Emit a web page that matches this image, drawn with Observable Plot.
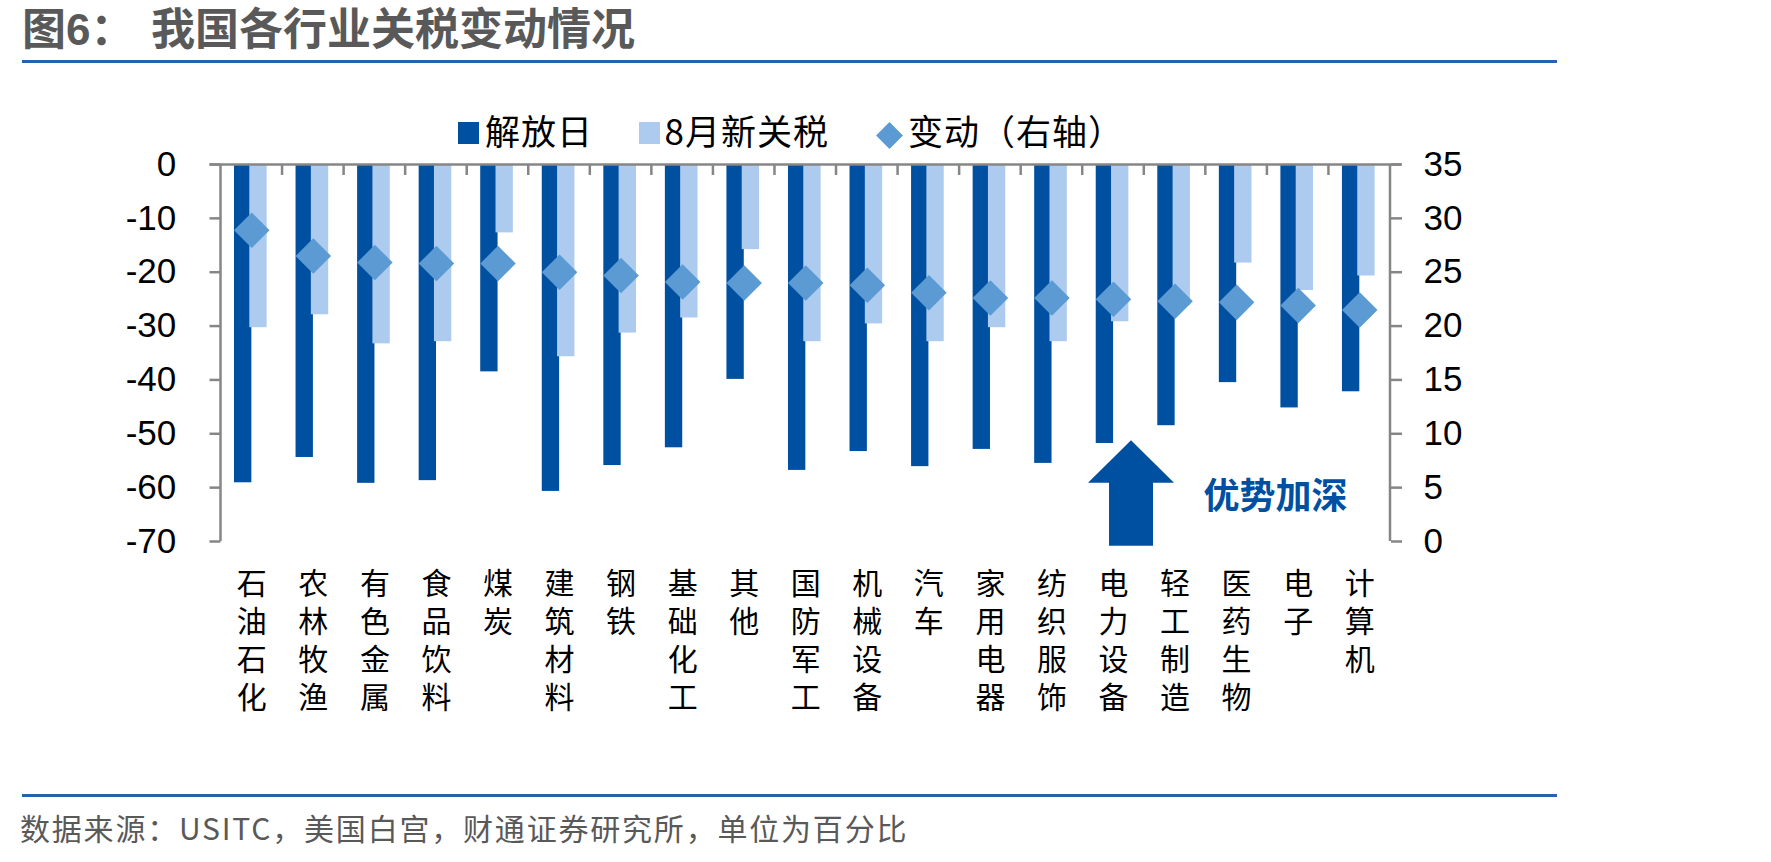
<!DOCTYPE html>
<html>
<head>
<meta charset="utf-8">
<script src="https://cdn.jsdelivr.net/npm/d3@7"></script>
<script src="https://cdn.jsdelivr.net/npm/@observablehq/plot@0.6"></script>
<style>
  body { margin: 0; background: #fff; }
  #wrap { position: relative; width: 1771px; height: 862px; overflow: hidden; background: #fff; }
  #chart { position: absolute; left: 0; top: 0; }
  .abs { position: absolute; white-space: nowrap; line-height: 1; font-family: "Noto Sans CJK SC", sans-serif; }
  .title { font-size: 44px; font-weight: 700; color: #595959; top: 7.5px;
           font-family: "Liberation Sans", "Noto Sans CJK SC", sans-serif; }
  .rule { position: absolute; left: 22px; width: 1535px; height: 3px; background: #2663ae; }
  .legend-text { font-size: 35px; color: #000; top: 111.5px; letter-spacing: 1px; }
  .swatch { position: absolute; top: 122px; width: 21.5px; height: 21.5px; }
  .caption { font-size: 30px; color: #595959; top: 812px; left: 20px; letter-spacing: 1.8px; }
</style>
</head>
<body>
<div id="wrap">
  <div id="chart"></div>
  <div class="abs title" style="left:22px">图6：</div>
  <div class="abs title" style="left:151px">我国各行业关税变动情况</div>
  <div class="rule" style="top:59.5px"></div>

  <div class="swatch" style="left:457.5px;background:#0050a2"></div>
  <div class="abs legend-text" style="left:485px">解放日</div>
  <div class="swatch" style="left:638.5px;background:#adcbef"></div>
  <div class="abs legend-text" style="left:664.5px">8月新关税</div>
  <div class="swatch" style="left:879.5px;top:125.5px;width:19px;height:19px;background:#5b9ad3;transform:rotate(45deg)"></div>
  <div class="abs legend-text" style="left:908px">变动（右轴）</div>

  <div class="rule" style="top:793.5px"></div>
  <div class="abs caption">数据来源：USITC，美国白宫，财通证券研究所，单位为百分比</div>
</div>
<script>
// Industries, in display order
const categories = ["石油石化", "农林牧渔", "有色金属", "食品饮料", "煤炭", "建筑材料", "钢铁", "基础化工", "其他",
  "国防军工", "机械设备", "汽车", "家用电器", "纺织服饰", "电力设备", "轻工制造", "医药生物", "电子", "计算机"];
// Tariff level set on "Liberation Day" (left axis, %)
const liberationDay = [-59.1, -54.4, -59.2, -58.7, -38.5, -60.7, -55.9, -52.6, -39.9,
  -56.8, -53.3, -56.1, -52.9, -55.5, -51.8, -48.5, -40.5, -45.2, -42.2];
// New tariff level from August (left axis, %)
const augustTariff = [-30.3, -27.9, -33.3, -32.9, -12.7, -35.7, -31.3, -28.5, -15.8,
  -32.9, -29.6, -32.9, -30.3, -32.9, -29.2, -26.2, -18.3, -23.4, -20.7];
// Change between the two (right axis, %)
const change = [28.9, 26.5, 25.9, 25.8, 25.8, 25.0, 24.7, 24.1, 24.0,
  24.0, 23.8, 23.1, 22.6, 22.6, 22.5, 22.3, 22.2, 21.9, 21.5];

const leftTicks = [-70, -60, -50, -40, -30, -20, -10, 0];
const rightTicks = [0, 5, 10, 15, 20, 25, 30, 35];

const darkBlue = "#0050a2";
const lightBlue = "#adcbef";
const diamondBlue = "#5b9ad3";
const axisGrey = "#868686";
const cjk = "'Noto Sans CJK SC', sans-serif";

// The right axis (0–35) shares the plot height with the left axis (−70–0)
const rightToLeft = v => v * 2 - 70;
const leftToRight = v => (v + 70) / 2;

const rows = categories.map((c, i) => ({
  category: c, liberation: liberationDay[i], august: augustTariff[i], change: change[i]
}));

// Annotation arrow next to 电力设备
const arrowSpec = {category: "电力设备", offset: 18, tip: -51.3, shoulder: -59.2, base: -70.9, headHalf: 43, shaftHalf: 22};

function bandStep(dims) {
  return (dims.width - dims.marginLeft - dims.marginRight) / categories.length;
}

// Vertical axis lines and the category separators hanging from the zero line
function frameLines(index, scales, values, dims) {
  const y = scales.y;
  const x0 = dims.marginLeft, x1 = dims.width - dims.marginRight;
  const step = bandStep(dims);
  const p = d3.path();
  p.moveTo(x0, y(0)); p.lineTo(x0, y(-70));
  p.moveTo(x1, y(0)); p.lineTo(x1, y(-70));
  for (let k = 1; k < categories.length; k++) {
    p.moveTo(x0 + k * step, y(0));
    p.lineTo(x0 + k * step, y(0) + 11);
  }
  const g = d3.create("svg:g");
  g.append("path").attr("d", p.toString())
    .attr("fill", "none").attr("stroke", axisGrey).attr("stroke-width", 2.5);
  return g.node();
}

function arrowMark(index, scales, values, dims) {
  const y = scales.y;
  const step = bandStep(dims);
  const cx = dims.marginLeft + step * (categories.indexOf(arrowSpec.category) + 0.5) + arrowSpec.offset;
  const {headHalf: h, shaftHalf: s} = arrowSpec;
  const pts = [
    [cx, y(arrowSpec.tip)],
    [cx + h, y(arrowSpec.shoulder)],
    [cx + s, y(arrowSpec.shoulder)],
    [cx + s, y(arrowSpec.base)],
    [cx - s, y(arrowSpec.base)],
    [cx - s, y(arrowSpec.shoulder)],
    [cx - h, y(arrowSpec.shoulder)]
  ];
  const g = d3.create("svg:g");
  g.append("polygon").attr("points", pts.map(d => d.join(",")).join(" ")).attr("fill", darkBlue);
  return g.node();
}

const chart = Plot.plot({
  width: 1771,
  height: 862,
  marginTop: 164,
  marginBottom: 321,
  marginLeft: 220.5,
  marginRight: 381,
  x: {type: "band", domain: categories, padding: 0, round: false, axis: null},
  y: {domain: [-70, 0]},
  style: {
    background: "transparent",
    fontFamily: "'Liberation Sans', Arial, sans-serif",
    fontSize: "35px",
    color: "#000",
    overflow: "visible"
  },
  marks: [
    Plot.barY(rows, {x: "category", y1: () => 0, y2: "liberation", fill: darkBlue, insetLeft: 13.5, insetRight: 30.7}),
    Plot.barY(rows, {x: "category", y1: () => 0, y2: "august", fill: lightBlue, insetLeft: 28.8, insetRight: 15.4}),
    Plot.ruleY([0], {stroke: axisGrey, strokeWidth: 2.5, insetLeft: -11, insetRight: -11}),
    frameLines,
    Plot.axisY(leftTicks, {
      anchor: "left", label: null, tickSize: 11, tickPadding: 33.7,
      stroke: axisGrey, strokeWidth: 2.5, fill: "#000", fontSize: 35,
      tickFormat: d => String(d)
    }),
    Plot.axisY(rightTicks.map(rightToLeft), {
      anchor: "right", label: null, tickSize: 11, tickPadding: 22,
      stroke: axisGrey, strokeWidth: 2.5, fill: "#000", fontSize: 35,
      tickFormat: d => String(leftToRight(d))
    }),
    Plot.dot(rows, {x: "category", y: d => rightToLeft(d.change), symbol: "diamond2", r: 16, fill: diamondBlue, stroke: null}),
    arrowMark,
    Plot.text(["优势加深"], {
      x: ["医药生物"], y: [-61.9], text: d => d, dx: 39,
      fontSize: 36, fontWeight: "bold", fontFamily: cjk, fill: darkBlue
    }),
    // Category labels, one character per line below the plot
    Plot.text(categories, {
      x: d => d,
      frameAnchor: "bottom",
      text: d => Array.from(d).join("\n"),
      lineAnchor: "top",
      lineHeight: 38 / 30,
      dy: 25.4,
      fontSize: 30,
      fontFamily: "'Liberation Sans', 'Noto Sans CJK SC', sans-serif",
      fill: "#000"
    })
  ]
});

document.getElementById("chart").appendChild(chart);
</script>
</body>
</html>
